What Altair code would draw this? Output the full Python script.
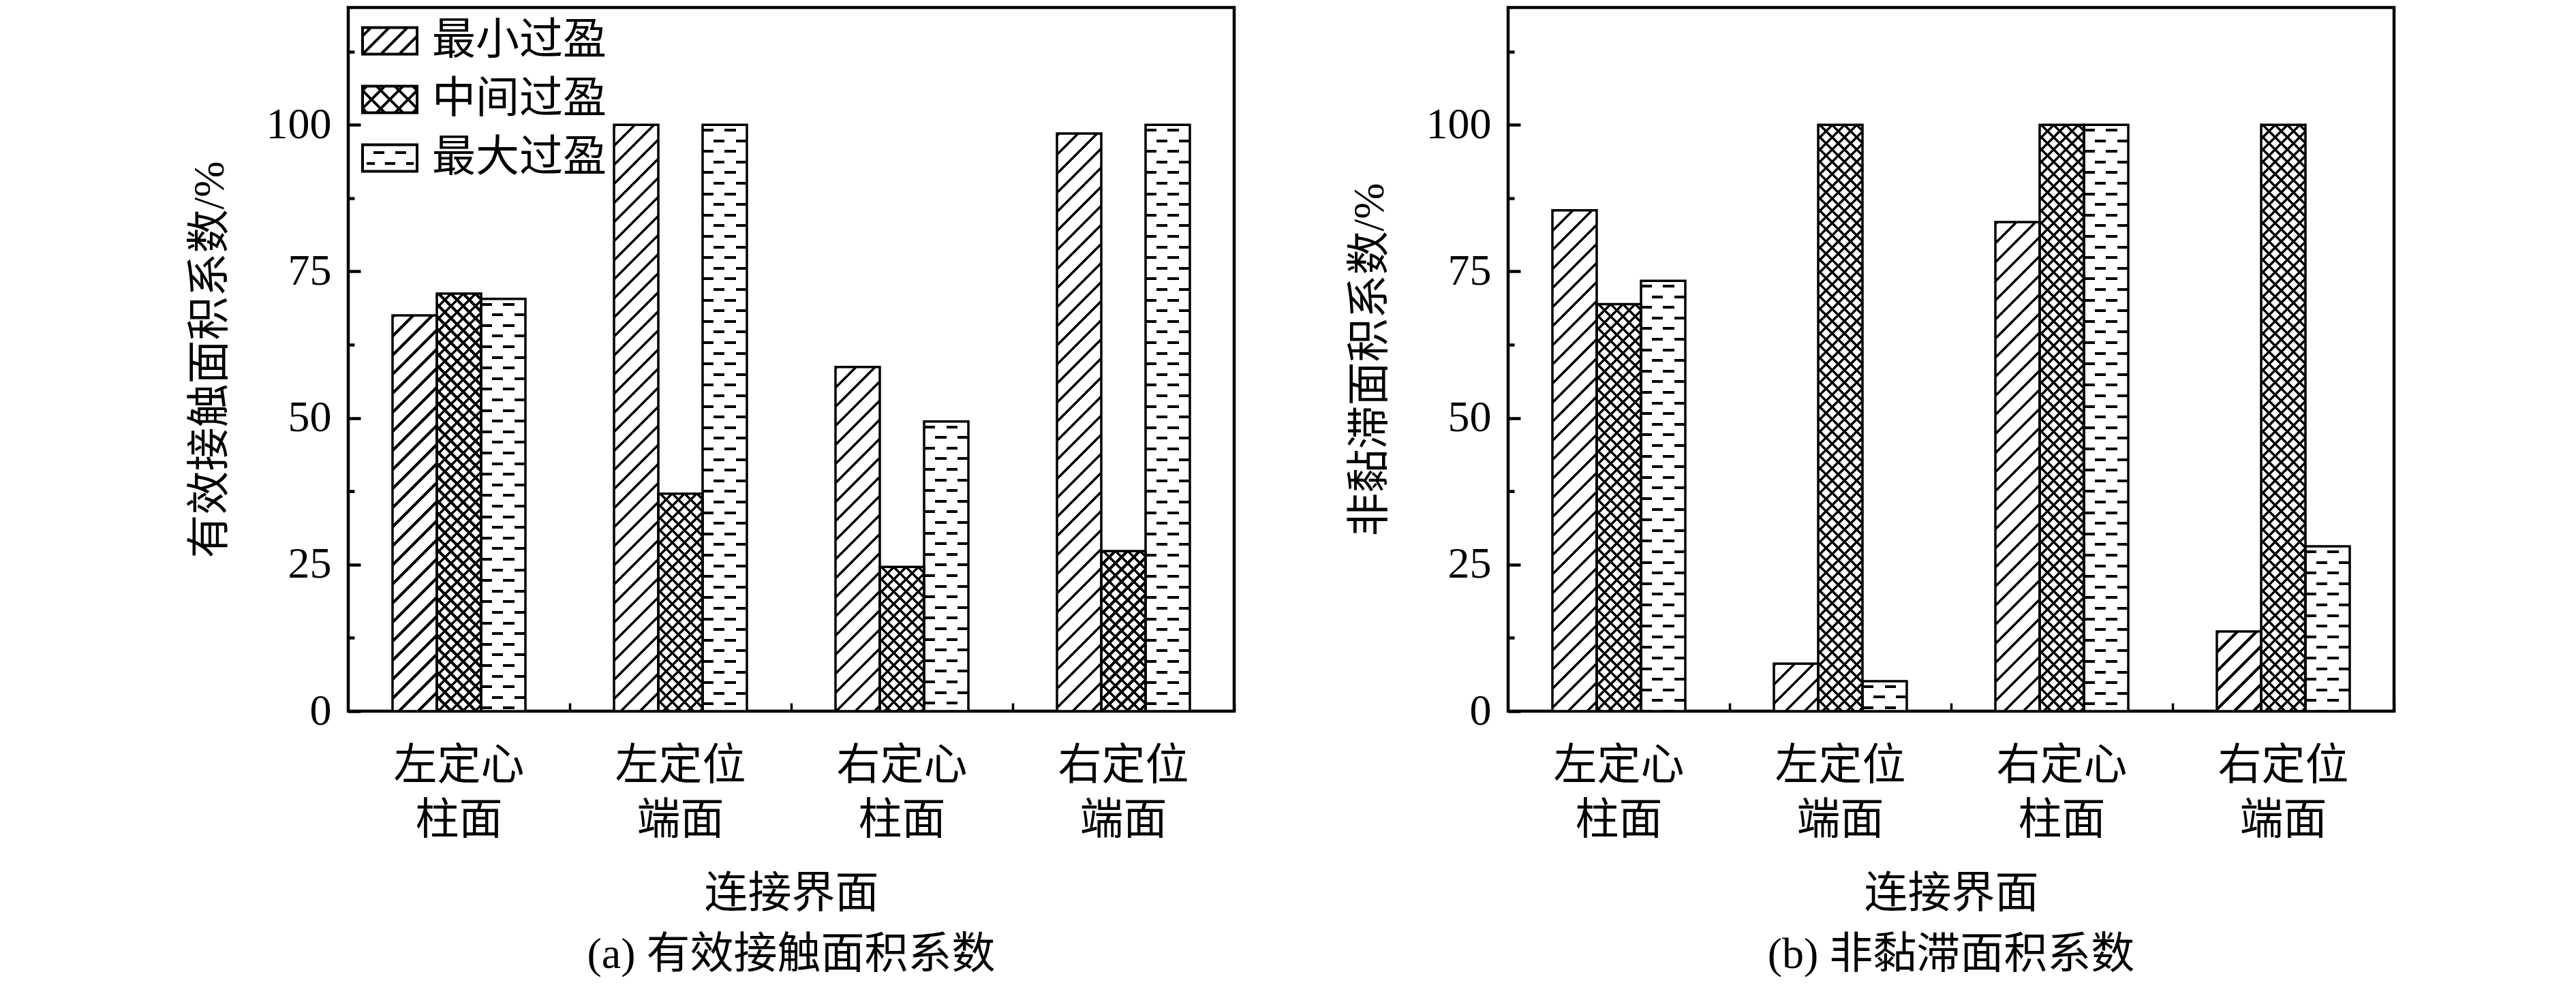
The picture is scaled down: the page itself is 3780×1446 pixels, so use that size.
import math
import altair as alt
import pandas as pd

# ---------------- data ----------------
categories = ["左定心柱面", "左定位端面", "右定心柱面", "右定位端面"]
series_names = ["最小过盈", "中间过盈", "最大过盈"]

# (a) 有效接触面积系数 /%
contact_min = [67.5, 100.0, 58.7, 98.5]
contact_mid = [71.2, 37.1, 24.6, 27.3]
contact_max = [70.3, 100.0, 49.4, 100.0]

# (b) 非黏滞面积系数 /%
nonstick_min = [85.4, 8.1, 83.4, 13.6]
nonstick_mid = [69.4, 100.0, 100.0, 100.0]
nonstick_max = [73.4, 5.1, 100.0, 28.1]

major_ticks = [0, 25, 50, 75, 100]
minor_ticks = [12.5, 37.5, 62.5, 87.5, 112.5]

x_title = "连接界面"
titles_a = ("有效接触面积系数/%", "(a) 有效接触面积系数")
titles_b = ("非黏滞面积系数/%", "(b) 非黏滞面积系数")

# ---------------- style / layout ----------------
W, H = 1300, 1033
YMAX = 120
PAD_IN, PAD_OUT = 0.4, 0.2
STEP = W / (len(categories) - PAD_IN + 2 * PAD_OUT)
BAR_W = STEP * (1 - PAD_IN) / len(series_names)

FONT = "Liberation Serif, Noto Sans CJK SC"
FS = 64
BLACK, WHITE, CLEAR = "black", "white", "rgba(0,0,0,0)"

HATCH_P, HATCH_LW = 28.0, 3.6
CROSS_P, CROSS_LW = 18.0, 3.6
DASH_ROW, DASH_LW, DASH_COL = 15.6, 4.0, BAR_W / 4


def stripe_stops(length, period, thick, phase, on, off):
    stops = [{"offset": 0, "color": off}]
    k = math.floor(-phase / period) - 1
    while True:
        a = phase + k * period
        if a >= length:
            break
        b = a + thick
        if b > 0:
            an = round(max(a, 0.0) / length, 6)
            bn = round(min(b, length) / length, 6)
            stops += [{"offset": an, "color": off}, {"offset": an, "color": on},
                      {"offset": bn, "color": on}, {"offset": bn, "color": off}]
        k += 1
    stops.append({"offset": 1, "color": off})
    return stops


def gradient(kind, w, h, period, thick, phase, on, off):
    if kind in ("up", "down"):
        L = w + h
        d = L / (w * w + h * h)
        if kind == "up":      # '/' lines : X+Y = const
            g = dict(x1=0, y1=0, x2=d * w, y2=d * h)
        else:                 # '\' lines : X-Y = const
            g = dict(x1=0, y1=1, x2=d * w, y2=1 - d * h)
        stops = stripe_stops(L, period, thick * math.sqrt(2), phase, on, off)
    elif kind == "rows":
        g = dict(x1=0, y1=0, x2=0, y2=1)
        stops = stripe_stops(h, period, thick, phase, on, off)
    else:                     # cols
        g = dict(x1=0, y1=0, x2=1, y2=0)
        stops = stripe_stops(w, period, thick, phase, on, off)
    g = {k: round(v, 6) for k, v in g.items()}
    return {"gradient": "linear", **g, "stops": stops}


def clip_family(cs, sign, hy=0.49):
    segs = []
    for c in cs:
        x0, x1 = max(-1, c - hy), min(1, c + hy)
        if x1 <= x0:
            continue
        if sign > 0:   # '/' : y = c - x
            segs.append(f"M{x0:.3f},{c - x0:.3f}L{x1:.3f},{c - x1:.3f}")
        else:          # '\' : y = x - c
            segs.append(f"M{x0:.3f},{x0 - c:.3f}L{x1:.3f},{x1 - c:.3f}")
    return "".join(segs)


BOX = "M-1,-0.49H1V0.49H-1Z"
SYM_HATCH = BOX + clip_family([-1.18, -0.51, 0.16, 0.83], 1)
SYM_CROSS = BOX + clip_family([-1.33, -0.67, 0, 0.67, 1.33], 1) + clip_family([-1.33, -0.67, 0, 0.67, 1.33], -1)
SYM_DASH = (BOX + "M-0.6,-0.2H-0.2M0.2,-0.2H0.6"
            + "M-0.85,0.2H-0.55M-0.18,0.2H0.2M0.6,0.2H0.88")
SYMBOLS = [SYM_HATCH, SYM_CROSS, SYM_DASH]


def panel(values, ytitle, caption, legend_x):
    df = pd.DataFrame([
        {"cat": c, "series": s, "value": values[j][i]}
        for j, s in enumerate(series_names) for i, c in enumerate(categories)
    ])
    xscale = alt.Scale(domain=categories, paddingInner=PAD_IN, paddingOuter=PAD_OUT)
    yscale = alt.Scale(domain=[0, YMAX], nice=False, zero=True)
    oscale = alt.Scale(domain=series_names, paddingInner=0, paddingOuter=0)

    def enc(xaxis=None, yaxis=None):
        return dict(
            x=alt.X("cat:N", scale=xscale, axis=xaxis),
            xOffset=alt.XOffset("series:N", scale=oscale),
            y=alt.Y("value:Q", scale=yscale, axis=yaxis),
        )

    main_x = alt.Axis(
        title=x_title, labelExpr="[substring(datum.label,0,3), substring(datum.label,3)]",
        labelAngle=0, ticks=False, domain=False, grid=False, labelLimit=1000,
        labelFont=FONT, labelFontSize=FS, labelColor=BLACK, labelPadding=48, labelLineHeight=80,
        titleFont=FONT, titleFontSize=FS, titleFontWeight="normal", titleColor=BLACK, titlePadding=44,
    )
    main_y = alt.Axis(
        title=ytitle, values=major_ticks, ticks=False, domain=False, grid=False,
        labelFont=FONT, labelFontSize=FS, labelColor=BLACK, labelPadding=25,
        titleFont=FONT, titleFontSize=FS, titleFontWeight="normal", titleColor=BLACK, titlePadding=50,
    )
    tick_x = alt.Axis(
        orient="top", offset=-H, labels=False, domain=False, grid=False, title=None,
        ticks=True, tickSize=12, tickWidth=3.5, tickColor=BLACK, bandPosition=0.5, tickOffset=STEP / 2,
    )
    tick_y_major = alt.Axis(
        orient="right", offset=-W, values=major_ticks, labels=False, domain=False, grid=False,
        title=None, ticks=True, tickSize=18, tickWidth=4.5, tickColor=BLACK,
    )
    tick_y_minor = alt.Axis(
        orient="right", offset=-W, values=minor_ticks, labels=False, domain=False, grid=False,
        title=None, ticks=True, tickSize=9, tickWidth=4.5, tickColor=BLACK,
    )

    base = alt.Chart(df)
    layers = [base.mark_bar(fill=WHITE).encode(**enc(main_x, main_y))]

    for j, s in enumerate(series_names):
        for i, c in enumerate(categories):
            v = values[j][i]
            w, h = BAR_W, v / YMAX * H
            one = base.transform_filter((alt.datum.cat == c) & (alt.datum.series == s))
            e = enc()
            if j == 0:
                layers.append(one.mark_bar(
                    fill=gradient("up", w, h, HATCH_P, HATCH_LW, 0, BLACK, WHITE)).encode(**e))
            elif j == 1:
                layers.append(one.mark_bar(
                    fill=gradient("up", w, h, CROSS_P, CROSS_LW, 0, BLACK, WHITE)).encode(**e))
                layers.append(one.mark_bar(
                    fill=gradient("down", w, h, CROSS_P, CROSS_LW, h % CROSS_P, BLACK, CLEAR)).encode(**e))
            else:
                layers.append(one.mark_bar(
                    fill=gradient("cols", w, h, 2 * DASH_COL, DASH_COL, 0, BLACK, WHITE)).encode(**e))
                layers.append(one.mark_bar(
                    fill=gradient("rows", w, h, 2 * DASH_ROW, DASH_ROW, DASH_ROW, WHITE, BLACK),
                    blend="difference").encode(**e))
                layers.append(one.mark_bar(
                    fill=gradient("rows", w, h, DASH_ROW, DASH_LW, (DASH_ROW - DASH_LW) / 2, CLEAR, WHITE)
                ).encode(**e))

    layers.append(base.mark_bar(fill=CLEAR, stroke=BLACK, strokeWidth=3.5).encode(**enc(tick_x, tick_y_major)))

    legend = alt.Legend(
        title=None, orient="none", legendX=legend_x, legendY=7, direction="vertical",
        symbolSize=6400, symbolStrokeWidth=4, symbolStrokeColor=BLACK, symbolFillColor=WHITE,
        symbolOpacity=1, labelFont=FONT, labelFontSize=FS, labelColor=BLACK, labelOffset=20,
        labelLimit=800, rowPadding=12, padding=0,
    )
    pts = base.mark_point(opacity=0, filled=False, color=BLACK, size=6400, strokeWidth=4).encode(
        x=alt.X("cat:N", scale=xscale, axis=None),
        xOffset=alt.XOffset("series:N", scale=oscale),
        y=alt.Y("value:Q", scale=yscale, axis=tick_y_minor),
        shape=alt.Shape("series:N", scale=alt.Scale(domain=series_names, range=SYMBOLS), legend=legend),
    )
    layers.append(pts)

    return alt.layer(*layers).resolve_axis(x="independent", y="independent").properties(
        width=W, height=H,
        title=alt.TitleParams(caption, orient="bottom", anchor="middle", frame="group",
                              font=FONT, fontSize=FS, fontWeight="normal", color=BLACK, offset=26),
    )


pa = panel([contact_min, contact_mid, contact_max], titles_a[0], titles_a[1], 19)
pb = panel([nonstick_min, nonstick_mid, nonstick_max], titles_b[0], titles_b[1], 72)

chart = alt.hconcat(pa, pb, spacing=160).properties(
    padding={"left": 265, "top": 0, "right": 8, "bottom": 0}
).configure(background="white").configure_view(stroke=BLACK, strokeWidth=4.5)

chart.save("out.html", embed_options={"renderer": "svg", "actions": False})
